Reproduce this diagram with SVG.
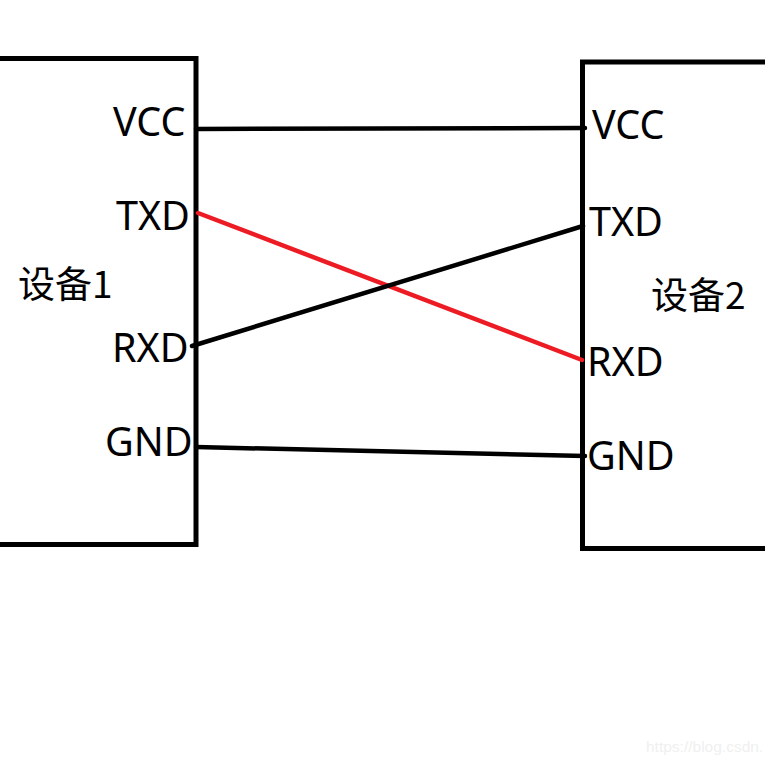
<svg xmlns="http://www.w3.org/2000/svg" width="765" height="765" viewBox="0 0 765 765">
<style>
.box{fill:none;stroke:#000;stroke-width:5}
.w{fill:none;stroke:#000;stroke-width:4.500;stroke-linecap:round}
.r{stroke:#ed1c24}
text{font-family:"Noto Sans","Noto Sans CJK SC","Open Sans",sans-serif;font-size:39.500px;fill:#000}
.c{font-family:"Noto Sans CJK SC","Noto Sans",sans-serif;font-size:37px}
.m{font-family:"Liberation Sans",sans-serif;font-size:15.500px;fill:#f0f0f0}
</style>
<rect width="765" height="765" fill="#fff"/>
<g id="device1">
<path class="box" d="M-5 58.500H196V544.500H-5"/>
<text x="113" y="136">VCC</text>
<text x="116" y="230">TXD</text>
<text x="112" y="362">RXD</text>
<text x="105" y="456">GND</text>
<text class="c" x="18" y="298">设备1</text>
</g>
<g id="device2">
<path class="box" d="M770 62H582.500V548.500H770"/>
<text x="592" y="139">VCC</text>
<text x="589" y="236">TXD</text>
<text x="587" y="376">RXD</text>
<text x="587" y="470">GND</text>
<text class="c" x="651" y="309">设备2</text>
</g>
<g id="connectors">
<path class="w" d="M196 129L585 128"/>
<path class="w r" d="M198 213L582 360"/>
<path class="w" d="M192 346L583 226"/>
<path class="w" d="M196 447L585 456"/>
</g>
<text class="m" x="646" y="752">https://blog.csdn.</text>
</svg>
